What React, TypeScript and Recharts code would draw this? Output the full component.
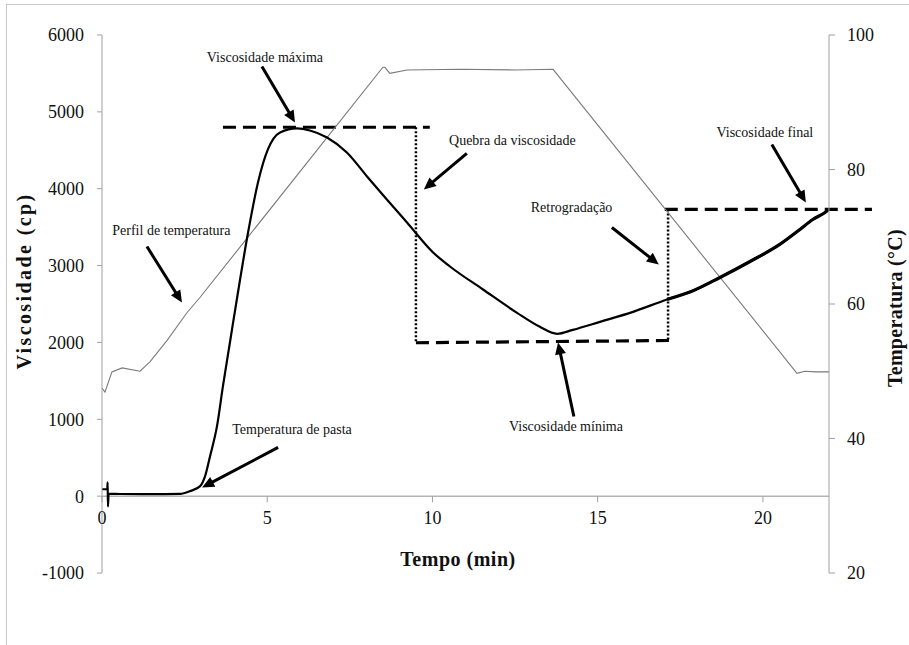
import { ComposedChart, Line, XAxis, YAxis, ReferenceLine, ReferenceDot } from 'recharts'

// viscosity curve (cp)
const viscTime = [0, 0.16, 0.17, 0.18, 0.2, 0.55, 1.45, 2.36, 2.66, 2.97, 3.12, 3.27, 3.48, 3.66, 3.87, 4.08, 4.42, 4.72, 5.02, 5.39, 5.9, 6.29, 6.81, 7.41, 8.02, 8.62, 9.23, 10.02, 10.53, 11.53, 12.56, 13.25, 13.77, 14.25, 15.07, 16.07, 17.1, 17.79, 18.7, 19.61, 20.51, 21.12, 21.51, 21.88, 21.97]
const viscValue = [90, 90, 180, -135, 30, 28, 25, 30, 65, 130, 260, 520, 911, 1431, 1996, 2559, 3430, 4081, 4511, 4732, 4784, 4758, 4667, 4472, 4160, 3860, 3560, 3170, 2988, 2689, 2385, 2203, 2112, 2164, 2268, 2398, 2559, 2655, 2845, 3053, 3275, 3470, 3600, 3691, 3720]

// temperature profile (°C)
const tempTime = [0, 0.09, 0.3, 0.61, 1.15, 1.45, 1.97, 2.57, 2.97, 8.5, 8.56, 8.71, 9.23, 10.83, 12.5, 13.65, 21.03, 21.27, 21.6, 22]
const tempValue = [47.5, 46.9, 49.9, 50.5, 50.0, 51.4, 54.6, 58.7, 61.0, 95.2, 95.2, 94.3, 94.8, 94.9, 94.8, 94.9, 49.7, 50.0, 49.9, 49.9]

const xTicks = [0, 5, 10, 15, 20]
const viscTicks = [-1000, 0, 1000, 2000, 3000, 4000, 5000, 6000]
const tempTicks = [20, 40, 60, 80, 100]

// annotations
const noteText = ['Viscosidade máxima', 'Quebra da viscosidade', 'Perfil de temperatura', 'Temperatura de pasta', 'Viscosidade mínima', 'Retrogradação', 'Viscosidade final']
const noteT = [4.93, 12.42, 2.1, 5.75, 14.04, 14.21, 20.06]
const noteV = [5707, 4628, 3457, 867, 907, 3766, 4732]
const arrowFromT = [4.84, 11.04, 1.36, 5.33, 14.28, 15.43, 20.27]
const arrowFromV = [5590, 4459, 3248, 634, 1037, 3496, 4575]
const arrowToT = [5.84, 9.74, 2.42, 3.03, 13.8, 16.85, 21.3]
const arrowToV = [4861, 3990, 2519, 113, 2000, 3014, 3820]

// dashed guide lines (max, min, final) and dotted verticals
const dashFromT = [3.66, 9.5, 17.03]
const dashToT = [9.92, 17.2, 23.3]
const dashFromV = [4800, 1996, 3730]
const dashToV = [4800, 2025, 3730]
const dotT = [9.5, 17.13]
const dotTopV = [4800, 3730]
const dotBottomV = [1996, 2025]

const viscData = viscTime.map((t, i) => ({ t, v: viscValue[i] }))
const viscTail = viscData.filter(d => d.t >= 16.8)
const tempData = tempTime.map((t, i) => ({ t, temp: tempValue[i] }))

const serif = '"Liberation Serif", "Times New Roman", serif'
const tickStyle = { fontSize: 18, fill: '#111' }

const css = `
.chart-box svg text { font-family: "Liberation Serif", "Times New Roman", serif; }
.chart-box .recharts-cartesian-axis-tick text { letter-spacing: 1px; }
.chart-box .x-tick text { letter-spacing: 1px; }
.chart-box .note text { letter-spacing: 0.2px; }
`

function Arrow(props: any) {
  const { x1, y1, x2, y2 } = props
  const dx = x2 - x1
  const dy = y2 - y1
  const len = Math.hypot(dx, dy) || 1
  const ux = dx / len
  const uy = dy / len
  const head = 12
  const half = 5.5
  const bx = x2 - ux * head
  const by = y2 - uy * head
  const pts = `${x2},${y2} ${bx - uy * half},${by + ux * half} ${bx + uy * half},${by - ux * half}`
  return (
    <g>
      <line x1={x1} y1={y1} x2={bx + ux} y2={by + uy} stroke="#000" strokeWidth={3} />
      <polygon points={pts} fill="#000" />
    </g>
  )
}

export default function App() {
  return (
    <div className="chart-box" style={{ position: 'absolute', left: 0, top: 0, width: 909, height: 645, background: '#fff', overflow: 'hidden' }}>
      <style>{css}</style>
      <div style={{ position: 'absolute', left: 6, top: 4, width: 920, height: 660, borderTop: '1.5px solid #c8c8c8', borderLeft: '1.5px solid #c8c8c8' }} />
      <ComposedChart width={909} height={645} margin={{ top: 35, right: 0, bottom: 72, left: 0 }} style={{ position: 'absolute', left: 0, top: 0 }}>
        <XAxis xAxisId="x" type="number" dataKey="t" domain={[0, 22]} hide allowDataOverflow />
        <YAxis
          yAxisId="v"
          domain={[-1000, 6000]}
          ticks={viscTicks}
          interval={0}
          width={102}
          stroke="#a0a0a0"
          tickSize={5}
          tickMargin={13}
          tick={tickStyle}
        />
        <YAxis
          yAxisId="temp"
          orientation="right"
          domain={[20, 100]}
          ticks={tempTicks}
          interval={0}
          width={80}
          stroke="#a0a0a0"
          tickSize={6}
          tickMargin={12}
          tick={tickStyle}
        />

        <ReferenceLine xAxisId="x" yAxisId="v" y={0} stroke="#b4b4b4" strokeWidth={1.5} />
        {xTicks.map(t => (
          <ReferenceLine key={'xt' + t} xAxisId="x" yAxisId="v" segment={[{ x: t, y: 0 }, { x: t, y: -80 }]} stroke="#a0a0a0" />
        ))}
        {xTicks.map(t => (
          <ReferenceDot
            key={'xl' + t}
            className="x-tick"
            xAxisId="x"
            yAxisId="v"
            x={t}
            y={0}
            r={1}
            fill="none"
            stroke="none"
            label={{ value: String(t), position: 'bottom', offset: 14, ...tickStyle, className: 'x-tick' }}
          />
        ))}

        {dashFromT.map((t, i) => (
          <ReferenceLine
            key={'dash' + i}
            xAxisId="x"
            yAxisId="v"
            ifOverflow="visible"
            segment={[{ x: t, y: dashFromV[i] }, { x: dashToT[i], y: dashToV[i] }]}
            stroke="#000"
            strokeWidth={3.2}
            strokeDasharray="13 7"
          />
        ))}
        {dotT.map((t, i) => (
          <ReferenceLine
            key={'dot' + i}
            xAxisId="x"
            yAxisId="v"
            segment={[{ x: t, y: dotTopV[i] }, { x: t, y: dotBottomV[i] }]}
            stroke="#000"
            strokeWidth={2.5}
            strokeDasharray="2 2"
          />
        ))}

        <Line xAxisId="x" yAxisId="temp" data={tempData} dataKey="temp" type="linear" stroke="#7a7a7a" strokeWidth={1.1} dot={false} isAnimationActive={false} />
        <Line xAxisId="x" yAxisId="v" data={viscData} dataKey="v" type="monotone" stroke="#000" strokeWidth={2.2} dot={false} isAnimationActive={false} />
        <Line xAxisId="x" yAxisId="v" data={viscTail} dataKey="v" type="monotone" stroke="#000" strokeWidth={3.2} dot={false} isAnimationActive={false} />

        {arrowFromT.map((t, i) => (
          <ReferenceLine
            key={'arr' + i}
            xAxisId="x"
            yAxisId="v"
            segment={[{ x: t, y: arrowFromV[i] }, { x: arrowToT[i], y: arrowToV[i] }]}
            shape={(p: any) => <Arrow {...p} />}
          />
        ))}
        {noteText.map((txt, i) => (
          <ReferenceDot
            key={'note' + i}
            className="note"
            xAxisId="x"
            yAxisId="v"
            x={noteT[i]}
            y={noteV[i]}
            r={1}
            fill="none"
            stroke="none"
            label={{ value: txt, position: 'center', fontSize: 14, fill: '#111', className: 'note' }}
          />
        ))}
      </ComposedChart>

      <div style={{ position: 'absolute', left: 24, top: 281, transform: 'translate(-50%, -50%) rotate(-90deg)', whiteSpace: 'nowrap', fontFamily: serif, fontWeight: 700, fontSize: 20, letterSpacing: 2.4, color: '#111' }}>
        Viscosidade (cp)
      </div>
      <div style={{ position: 'absolute', left: 895, top: 308, transform: 'translate(-50%, -50%) rotate(-90deg)', whiteSpace: 'nowrap', fontFamily: serif, fontWeight: 700, fontSize: 20, letterSpacing: 0.3, color: '#111' }}>
        Temperatura (°C)
      </div>
      <div style={{ position: 'absolute', left: 458, top: 559, transform: 'translate(-50%, -50%)', whiteSpace: 'nowrap', fontFamily: serif, fontWeight: 700, fontSize: 20, letterSpacing: 0.5, color: '#111' }}>
        Tempo (min)
      </div>
    </div>
  )
}
